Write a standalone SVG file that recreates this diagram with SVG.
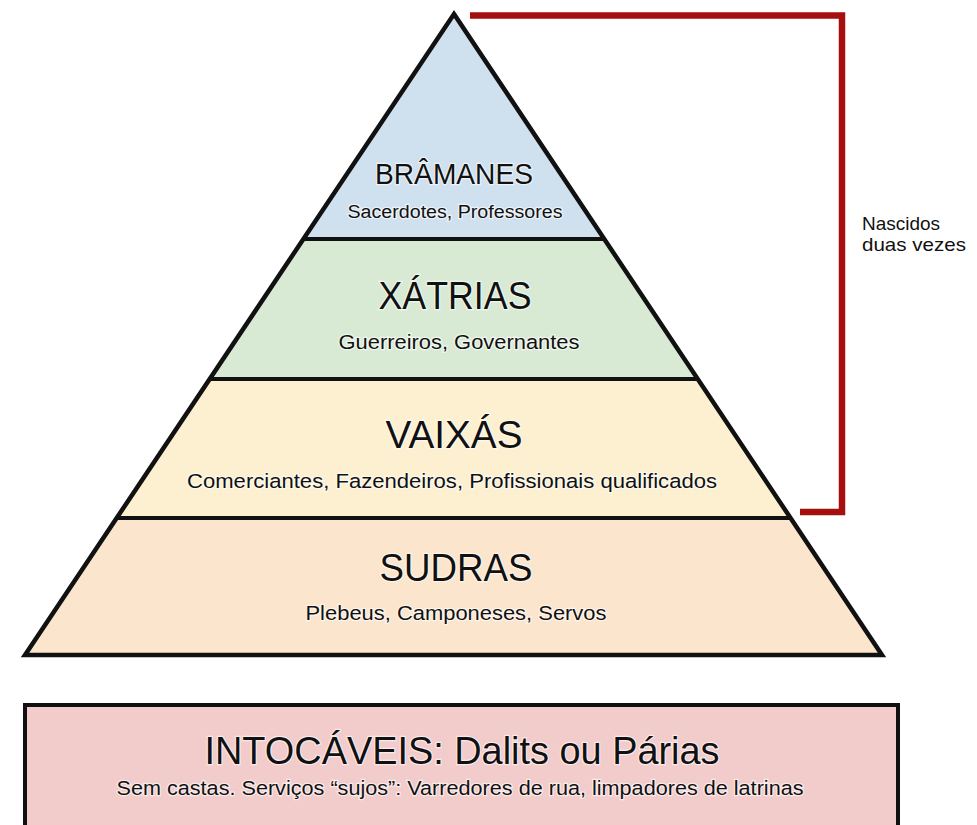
<svg xmlns="http://www.w3.org/2000/svg" width="977" height="825" viewBox="0 0 977 825">
<style>
.band{stroke:none}
.sep{stroke:#111;stroke-width:4;fill:none}
.outline{stroke:#111;stroke-width:4.5;fill:none;stroke-linejoin:miter}
.t{font-family:"Liberation Sans",Arial,sans-serif;fill:#111;text-anchor:middle;paint-order:stroke;stroke:#fff;stroke-width:2.5;stroke-opacity:0.6}
.h{font-size:38px}
.s{font-size:20.5px}
.note{font-family:"Liberation Sans",Arial,sans-serif;fill:#111;font-size:18.5px}
.red{stroke:#a50f0f;stroke-width:6.5;fill:none;stroke-linejoin:miter}
</style>
<rect width="977" height="825" fill="#fff"/>
<g id="bramanes">
<polygon class="band" fill="#cfe0ef" points="454,14 604,239 304,239"/>
<text class="t" x="454" y="184" font-size="29.5" textLength="158" lengthAdjust="spacingAndGlyphs">BRÂMANES</text>
<text class="t" x="455" y="218" font-size="18" textLength="215" lengthAdjust="spacingAndGlyphs">Sacerdotes, Professores</text>
</g>
<g id="xatrias">
<polygon class="band" fill="#d8ead3" points="304,239 604,239 697,379 211,379"/>
<text class="t h" x="455" y="309" textLength="153" lengthAdjust="spacingAndGlyphs">XÁTRIAS</text>
<text class="t s" x="459" y="349" textLength="241" lengthAdjust="spacingAndGlyphs">Guerreiros, Governantes</text>
</g>
<g id="vaixas">
<polygon class="band" fill="#fcf0d0" points="211,379 697,379 791,518 117,518"/>
<text class="t h" x="454" y="448" textLength="137" lengthAdjust="spacingAndGlyphs">VAIXÁS</text>
<text class="t s" x="452" y="488" textLength="530" lengthAdjust="spacingAndGlyphs">Comerciantes, Fazendeiros, Profissionais qualificados</text>
</g>
<g id="sudras">
<polygon class="band" fill="#fbe5cd" points="117,518 791,518 882,655 25,655"/>
<text class="t h" x="456" y="581" textLength="153" lengthAdjust="spacingAndGlyphs">SUDRAS</text>
<text class="t s" x="456" y="620" textLength="301" lengthAdjust="spacingAndGlyphs">Plebeus, Camponeses, Servos</text>
</g>
<g id="pyramid-outline">
<line class="sep" x1="304" y1="239" x2="604" y2="239"/>
<line class="sep" x1="211" y1="379" x2="697" y2="379"/>
<line class="sep" x1="117" y1="518" x2="791" y2="518"/>
<polygon class="outline" points="454,14 882,655 25,655"/>
</g>
<g id="intocaveis">
<rect x="25" y="705" width="873" height="140" fill="#f2cbcb" stroke="#111" stroke-width="4"/>
<text class="t h" x="462" y="764" textLength="515" lengthAdjust="spacingAndGlyphs">INTOCÁVEIS: Dalits ou Párias</text>
<text class="t s" x="460" y="795" textLength="687" lengthAdjust="spacingAndGlyphs">Sem castas. Serviços “sujos”: Varredores de rua, limpadores de latrinas</text>
</g>
<g id="connectors">
<polyline class="red" points="470,15.5 842,15.5 842,512 800,512"/>
</g>
<g id="nascidos">
<text class="note" x="862" y="230" textLength="78" lengthAdjust="spacingAndGlyphs">Nascidos</text>
<text class="note" x="862" y="251" textLength="104" lengthAdjust="spacingAndGlyphs">duas vezes</text>
</g>
</svg>
